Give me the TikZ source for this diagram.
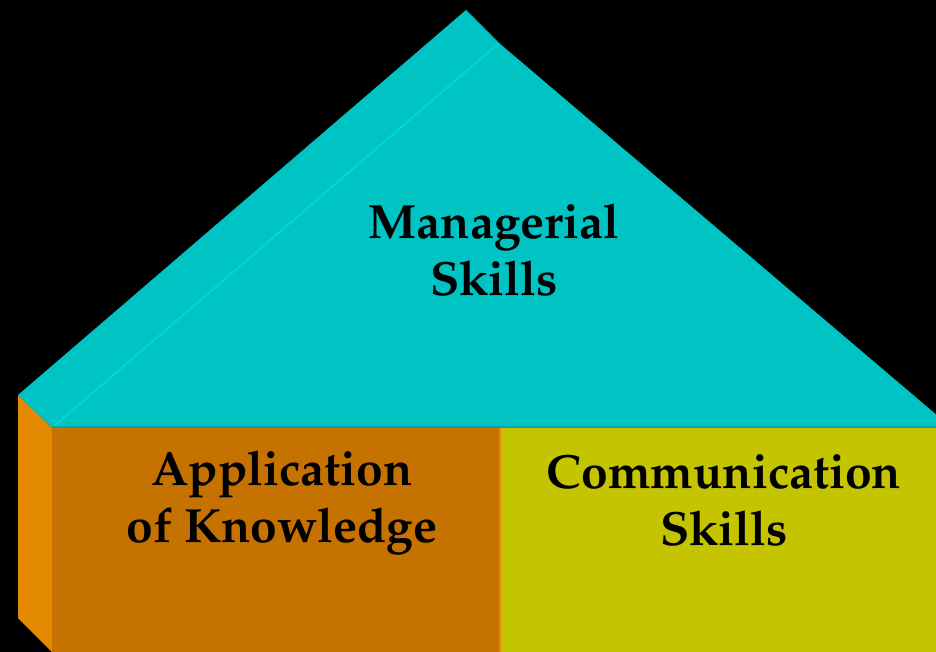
\documentclass[tikz,border=0pt]{standalone}
\usepackage[T1]{fontenc}
\renewcommand{\rmdefault}{ppl}
\definecolor{roofcyan}{RGB}{0,196,196}
\definecolor{seamcyan}{RGB}{0,214,214}
\definecolor{sideorange}{RGB}{227,138,0}
\definecolor{frontbrown}{RGB}{198,114,0}
\definecolor{frontyellow}{RGB}{196,196,0}
\tikzset{
  label/.style={font=\fontsize{24}{28.5}\selectfont\bfseries, align=center, text=black}
}
\begin{document}
\begin{tikzpicture}[x=0.5pt,y=-0.5pt]
  \fill[black] (0,0) rectangle (936,652);
  \useasboundingbox (0,0) rectangle (936,652);
  \clip (0,0) rectangle (936,652);

  % roof
  \fill[roofcyan] (18,395) -- (466,10) -- (499,43) -- (52,428) -- cycle;
  \fill[roofcyan] (52,428) -- (499,43) -- (952,428) -- cycle;
  \draw[seamcyan, line width=1pt] (52,428) -- (499,43);
  \draw[roofcyan!70!black, line width=0.5pt] (466,10) -- (499,43);

  % walls
  \fill[sideorange] (18,395) -- (52,428) -- (52,652) -- (18,618) -- cycle;
  \fill[frontbrown] (52,428) rectangle (500,652);
  \fill[frontyellow] (500,428) rectangle (936,652);
  \draw[sideorange, line width=1pt] (500,428) -- (500,652);
  \draw[roofcyan!85!black, line width=0.8pt] (52,427) -- (936,427);

  % texts
  \node[label] (managerial) at (494,250) {Managerial\\Skills};
  \node[label] (knowledge) at (282,503) {Application\\of Knowledge};
  \node[label] (communication) at (724,500) {Communication\\Skills};
\end{tikzpicture}
\end{document}
